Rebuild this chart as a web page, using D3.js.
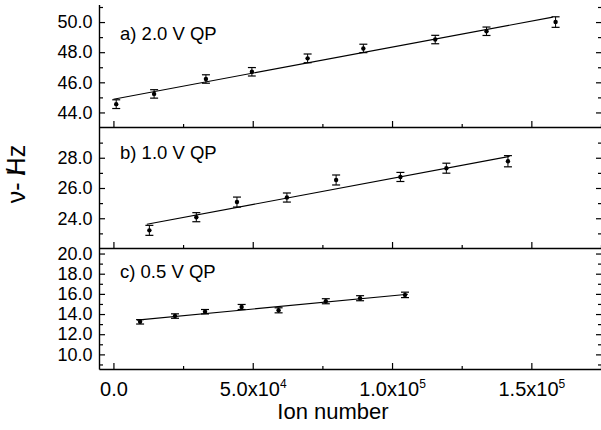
<!DOCTYPE html>
<html>
<head>
<meta charset="utf-8">
<script src="https://cdn.jsdelivr.net/npm/d3@7"></script>
<style>
  body { margin: 0; background: #fff; }
  text { font-family: Arial, "Liberation Sans", sans-serif; fill: #000; }
</style>
</head>
<body>
<div id="chart"></div>
<script>
// ion number / frequency data
const ionA = [1000, 14600, 33200, 49700, 69700, 89700, 115500, 133900, 158700];
const nuA = [44.55, 45.23, 46.22, 46.70, 47.59, 48.25, 48.84, 49.39, 50.00];
const errA = [0.29, 0.28, 0.28, 0.28, 0.29, 0.28, 0.28, 0.28, 0.35];
const fitIonA = [0, 157700];
const fitNuA = [44.88, 50.33];

const ionB = [12900, 29750, 44340, 62260, 79930, 103000, 119500, 141600];
const nuB = [23.20, 24.07, 25.07, 25.37, 26.53, 26.73, 27.31, 27.77];
const errB = [0.33, 0.30, 0.33, 0.30, 0.33, 0.30, 0.33, 0.37];
const fitIonB = [12000, 142200];
const fitNuB = [23.60, 28.09];

const ionC = [9570, 22100, 32870, 46020, 59280, 76230, 88530, 104650];
const nuC = [13.23, 13.80, 14.23, 14.70, 14.37, 15.27, 15.57, 15.90];
const errC = [0.22, 0.22, 0.22, 0.25, 0.25, 0.25, 0.25, 0.27];
const fitIonC = [8400, 105700];
const fitNuC = [13.40, 15.97];

const xTicks = [0, 50000, 100000, 150000];
const xMinor = [25000, 75000, 125000, 175000];
const yTicksA = [44, 46, 48, 50];
const yTicksB = [24, 26, 28];
const yTicksC = [10, 12, 14, 16, 18, 20];

const width = 601, height = 430;
const left = 99.5, right = 601;

const svg = d3.select('#chart').append('svg')
  .attr('width', width)
  .attr('height', height);

const x = d3.scaleLinear().domain([-5000, 175000]).range([left, right]);

const panels = [
  { label: 'a) 2.0 V QP', ion: ionA, nu: nuA, err: errA, fitIon: fitIonA, fitNu: fitNuA,
    domain: [43, 51.1], top: 5.5, bottom: 127.5, ticks: yTicksA, labelY: 40 },
  { label: 'b) 1.0 V QP', ion: ionB, nu: nuB, err: errB, fitIon: fitIonB, fitNu: fitNuB,
    domain: [22, 30], top: 127.5, bottom: 248.5, ticks: yTicksB, labelY: 159 },
  { label: 'c) 0.5 V QP', ion: ionC, nu: nuC, err: errC, fitIon: fitIonC, fitNu: fitNuC,
    domain: [8.5, 20.5], top: 248.5, bottom: 369.5, ticks: yTicksC, labelY: 278 }
];

function cleanAxis(g) {
  g.select('.domain').remove();
  g.selectAll('.tick line').attr('stroke', '#000').attr('stroke-width', 1.2);
  g.selectAll('.tick text').attr('font-size', 18).attr('fill', '#000')
    .attr('font-family', 'Arial, "Liberation Sans", sans-serif');
}

panels.forEach((p, i) => {
  const y = d3.scaleLinear().domain(p.domain).range([p.bottom, p.top]);
  const minor = d3.range(Math.ceil(p.domain[0]), p.domain[1] + 0.001, 1)
    .filter(v => p.ticks.indexOf(v) < 0 && y(v) > p.top + 0.5 && y(v) < p.bottom - 0.5);

  // left axis, ticks pointing inward
  svg.append('g')
    .attr('transform', `translate(${left},0)`)
    .call(d3.axisLeft(y).tickValues(p.ticks).tickSize(-5.5).tickPadding(7)
      .tickFormat(d3.format('.1f')))
    .call(cleanAxis);
  svg.append('g')
    .attr('transform', `translate(${left},0)`)
    .call(d3.axisLeft(y).tickValues(minor).tickSize(-3.5).tickFormat(''))
    .call(cleanAxis);

  // right axis ticks
  svg.append('g')
    .attr('transform', `translate(${right},0)`)
    .call(d3.axisRight(y).tickValues(p.ticks).tickSize(-5).tickFormat(''))
    .call(cleanAxis);
  svg.append('g')
    .attr('transform', `translate(${right},0)`)
    .call(d3.axisRight(y).tickValues(minor).tickSize(-3).tickFormat(''))
    .call(cleanAxis);

  // bottom axis of each panel, ticks pointing up
  const xa = svg.append('g')
    .attr('transform', `translate(0,${p.bottom})`)
    .call(d3.axisBottom(x).tickValues(xTicks).tickSize(-6.5).tickPadding(12)
      .tickFormat(i === 2 ? null : ''))
    .call(cleanAxis);
  svg.append('g')
    .attr('transform', `translate(0,${p.bottom})`)
    .call(d3.axisBottom(x).tickValues(xMinor).tickSize(-3.5).tickFormat(''))
    .call(cleanAxis);

  if (i === 2) {
    xa.selectAll('.tick text')
      .attr('font-size', 20)
      .attr('dy', '0.71em')
      .each(function (d) {
        const t = d3.select(this).text(null);
        if (d === 0) { t.text('0.0'); return; }
        const e = Math.floor(Math.log10(d));
        const m = d / Math.pow(10, e);
        t.append('tspan').text(m.toFixed(1) + 'x10');
        t.append('tspan').attr('font-size', 12).attr('dy', -8).text(e);
      });
  }

  // frame line at panel bottom
  svg.append('line')
    .attr('x1', left).attr('x2', right)
    .attr('y1', p.bottom).attr('y2', p.bottom)
    .attr('stroke', '#000').attr('stroke-width', 1.4);

  // fit line
  const line = d3.line().x(d => x(d[0])).y(d => y(d[1]));
  svg.append('path')
    .datum(d3.zip(p.fitIon, p.fitNu))
    .attr('d', line)
    .attr('fill', 'none')
    .attr('stroke', '#000')
    .attr('stroke-width', 1.1);

  // error bars and points
  const pts = svg.append('g').selectAll('g')
    .data(d3.range(p.ion.length))
    .enter().append('g');
  pts.append('line')
    .attr('x1', k => x(p.ion[k])).attr('x2', k => x(p.ion[k]))
    .attr('y1', k => y(p.nu[k] - p.err[k])).attr('y2', k => y(p.nu[k] + p.err[k]))
    .attr('stroke', '#000').attr('stroke-width', 1);
  [-1, 1].forEach(s => {
    pts.append('line')
      .attr('x1', k => x(p.ion[k]) - 4).attr('x2', k => x(p.ion[k]) + 4)
      .attr('y1', k => y(p.nu[k] + s * p.err[k])).attr('y2', k => y(p.nu[k] + s * p.err[k]))
      .attr('stroke', '#000').attr('stroke-width', 1.2);
  });
  pts.append('circle')
    .attr('cx', k => x(p.ion[k]))
    .attr('cy', k => y(p.nu[k]))
    .attr('r', 2.2)
    .attr('fill', '#000');

  // panel label
  svg.append('text')
    .attr('x', 120).attr('y', p.labelY)
    .attr('font-size', 18.5)
    .text(p.label);
});

// left axis line
svg.append('line')
  .attr('x1', left).attr('x2', left)
  .attr('y1', 5).attr('y2', 369.5)
  .attr('stroke', '#000').attr('stroke-width', 1.4);

// axis titles
svg.append('text')
  .attr('x', 333)
  .attr('y', 419)
  .attr('text-anchor', 'middle')
  .attr('font-size', 22)
  .text('Ion number');

const yt = svg.append('text')
  .attr('transform', 'translate(25,174) rotate(-90)')
  .attr('text-anchor', 'middle')
  .attr('font-size', 25);
yt.append('tspan').text('ν');
yt.append('tspan').text('- ');
yt.append('tspan').text('/');
yt.append('tspan').attr('dx', -7).text('Hz');
</script>
</body>
</html>
